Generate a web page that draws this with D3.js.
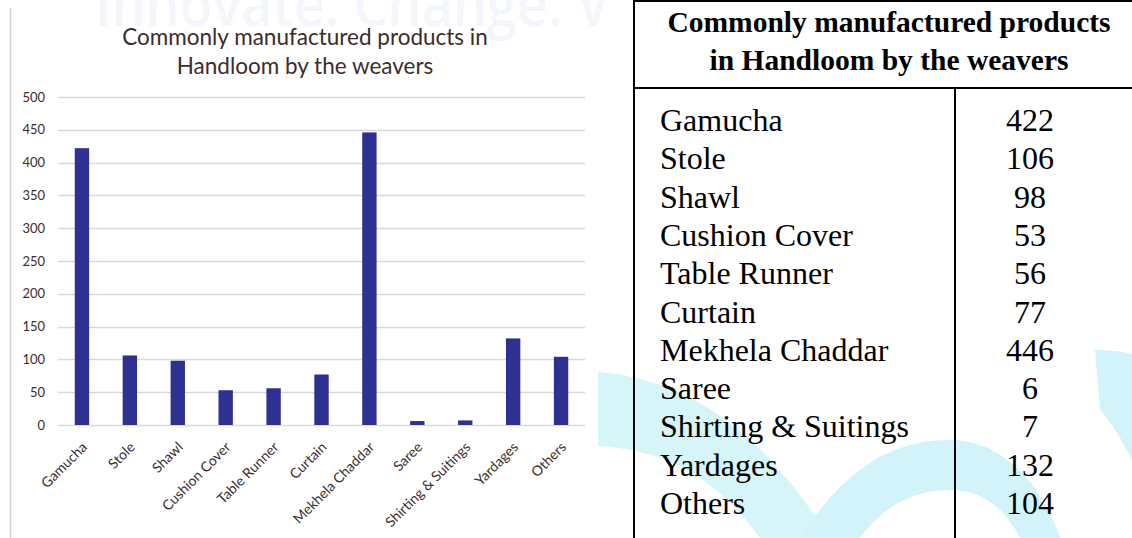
<!DOCTYPE html>
<html>
<head>
<meta charset="utf-8">
<script src="https://cdn.jsdelivr.net/npm/d3@7/dist/d3.min.js"></script>
<style>
  html, body { margin: 0; padding: 0; background: #ffffff; }
  svg { display: block; }
</style>
</head>
<body>
<svg id="chart" width="1132" height="538"></svg>
<script>
// Products and the number of weavers making each
const categories = ["Gamucha", "Stole", "Shawl", "Cushion Cover", "Table Runner", "Curtain",
  "Mekhela Chaddar", "Saree", "Shirting & Suitings", "Yardages", "Others"];
const counts = [422, 106, 98, 53, 56, 77, 446, 6, 7, 132, 104];
const yTicks = [0, 50, 100, 150, 200, 250, 300, 350, 400, 450, 500];
const chartTitle = ["Commonly manufactured products in", "Handloom by the weavers"];
const tableTitle = ["Commonly manufactured products", "in Handloom by the weavers"];

const svg = d3.select("#chart");

// Soft background decoration
const deco = svg.append("g");
deco.append("text")
  .attr("x", 95).attr("y", 26)
  .attr("font-family", "Open Sans, sans-serif")
  .attr("font-size", 62)
  .attr("font-weight", 600)
  .attr("textLength", 515)
  .attr("lengthAdjust", "spacingAndGlyphs")
  .attr("fill", "#f3f6fb")
  .text("Innovate. Change. V");
deco.append("path")
  .attr("d", "M598,372 C690,380 760,430 830,538 L760,538 C710,470 660,450 598,446 Z")
  .attr("fill", "#d6f5f8");
deco.append("path")
  .attr("d", "M800,538 C850,460 900,440 950,440 C1000,440 1040,480 1060,538 L1020,538 C1000,500 975,490 950,490 C910,490 880,510 860,538 Z")
  .attr("fill", "#d3f3fa");
deco.append("path")
  .attr("d", "M1095,350 C1110,350 1125,352 1132,354 L1132,460 C1122,440 1110,420 1100,410 Z")
  .attr("fill", "#d3f3fa");

// ---- Bar chart ----
const textColor = "#3d2c2c";
const x = d3.scaleBand().domain(categories).range([58, 585]).paddingInner(0.7).paddingOuter(0.35);
const y = d3.scaleLinear().domain([0, 500]).range([425, 97]);

svg.append("line")
  .attr("x1", 10.5).attr("x2", 10.5).attr("y1", 8).attr("y2", 538)
  .attr("stroke", "#d4d4d4").attr("stroke-width", 1.5);

const title = svg.append("text")
  .attr("text-anchor", "middle")
  .attr("font-family", "Lato, sans-serif")
  .attr("font-size", 22.5)
  .attr("fill", textColor);
chartTitle.forEach((t, i) => {
  title.append("tspan").attr("x", 305).attr("y", 45 + i * 29).text(t);
});

// Gridlines
svg.append("g")
  .selectAll("line")
  .data(yTicks)
  .join("line")
  .attr("x1", 58).attr("x2", 585)
  .attr("y1", d => Math.round(y(d)) + 0.5).attr("y2", d => Math.round(y(d)) + 0.5)
  .attr("stroke", "#d9d9d9").attr("stroke-width", 1.5);

// Y axis labels
const yAxis = svg.append("g")
  .attr("transform", "translate(58,0)")
  .call(d3.axisLeft(y).tickValues(yTicks).tickSize(0).tickPadding(13));
yAxis.select(".domain").remove();
yAxis.selectAll("text")
  .attr("font-family", "Lato, sans-serif")
  .attr("font-size", 13)
  .attr("fill", textColor);

// Bars
svg.append("g")
  .selectAll("rect")
  .data(categories)
  .join("rect")
  .attr("x", d => x(d))
  .attr("width", x.bandwidth())
  .attr("y", (d, i) => y(counts[i]))
  .attr("height", (d, i) => y(0) - y(counts[i]))
  .attr("fill", "#2e3192");

// Category labels
svg.append("g")
  .selectAll("text")
  .data(categories)
  .join("text")
  .attr("transform", d => `translate(${x(d) + x.bandwidth() / 2 + 6},${448}) rotate(-45)`)
  .attr("text-anchor", "end")
  .attr("font-family", "Lato, sans-serif")
  .attr("font-size", 14)
  .attr("fill", textColor)
  .text(d => d);

// ---- Table ----
const tbl = svg.append("g");
tbl.append("line").attr("x1", 634).attr("x2", 634).attr("y1", 0).attr("y2", 538)
  .attr("stroke", "#000").attr("stroke-width", 2);
tbl.append("line").attr("x1", 633).attr("x2", 1132).attr("y1", 1).attr("y2", 1)
  .attr("stroke", "#000").attr("stroke-width", 2);
tbl.append("line").attr("x1", 633).attr("x2", 1132).attr("y1", 88).attr("y2", 88)
  .attr("stroke", "#000").attr("stroke-width", 2);
tbl.append("line").attr("x1", 955).attr("x2", 955).attr("y1", 88).attr("y2", 538)
  .attr("stroke", "#000").attr("stroke-width", 2);

const head = tbl.append("text")
  .attr("text-anchor", "middle")
  .attr("font-family", "Liberation Serif, Times New Roman, serif")
  .attr("font-weight", "bold")
  .attr("font-size", 29.5)
  .attr("fill", "#000");
tableTitle.forEach((t, i) => {
  head.append("tspan").attr("x", 889).attr("y", 32 + i * 38).text(t);
});

const rowY = d3.scalePoint().domain(categories).range([131, 514]);
tbl.append("g")
  .selectAll("text")
  .data(categories)
  .join("text")
  .attr("x", 660)
  .attr("y", d => rowY(d))
  .attr("font-family", "Liberation Serif, Times New Roman, serif")
  .attr("font-size", 32)
  .attr("fill", "#000")
  .text(d => d);
tbl.append("g")
  .selectAll("text")
  .data(categories)
  .join("text")
  .attr("x", 1030)
  .attr("y", d => rowY(d))
  .attr("text-anchor", "middle")
  .attr("font-family", "Liberation Serif, Times New Roman, serif")
  .attr("font-size", 32)
  .attr("fill", "#000")
  .text((d, i) => counts[i]);
</script>
</body>
</html>
